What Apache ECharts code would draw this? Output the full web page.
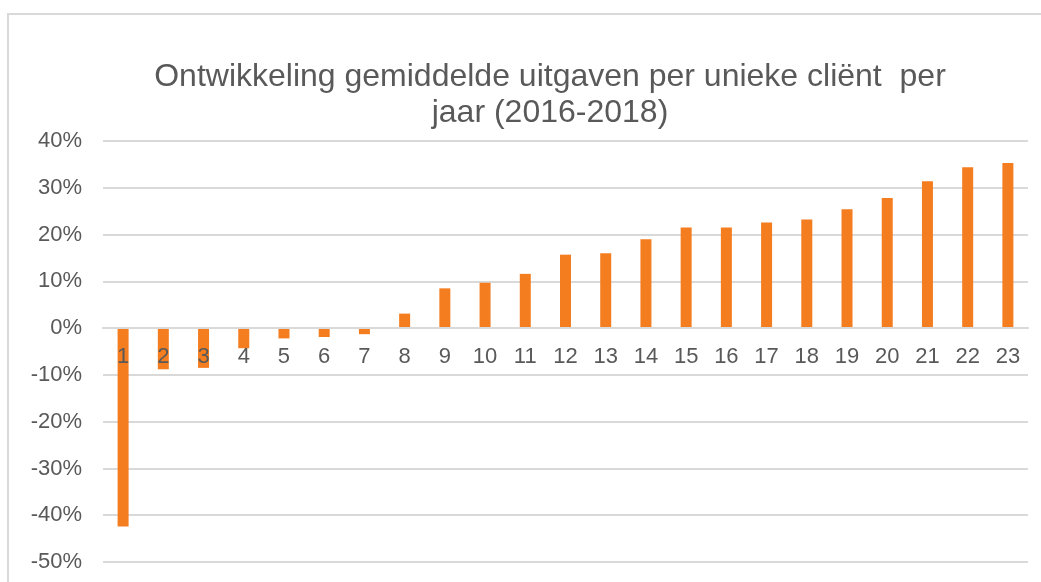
<!DOCTYPE html>
<html>
<head>
<meta charset="utf-8">
<script src="https://cdn.jsdelivr.net/npm/echarts@6/dist/echarts.min.js"></script>
<style>
html, body { margin: 0; padding: 0; background: #fff; }
#main { width: 1041px; height: 582px; }
</style>
</head>
<body>
<div id="main"></div>
<script>
var categories = ['1','2','3','4','5','6','7','8','9','10','11','12','13','14','15','16','17','18','19','20','21','22','23'];
// ontwikkeling in procenten
var values = [-42.4, -8.8, -8.5, -4.3, -2.2, -1.9, -1.3, 3.1, 8.5, 9.7, 11.6, 15.7, 16.0, 19.0, 21.5, 21.5, 22.6, 23.2, 25.4, 27.8, 31.4, 34.4, 35.3];
var yTicks = { min: -50, max: 40, step: 10 };

var myChart = echarts.init(document.getElementById('main'));
var font = '"Liberation Sans", Arial, sans-serif';

var gridTop = 141, gridBottom = 20, chartH = 582;
var plotH = chartH - gridTop - gridBottom;
// afstand van onderrand van grid tot de 0-lijn
var zeroShift = plotH * (0 - yTicks.min) / (yTicks.max - yTicks.min);

var option = {
    animation: false,
    backgroundColor: '#fff',
    graphic: [{
        type: 'rect',
        shape: { x: 8, y: 14, width: 1060, height: 600 },
        style: { fill: 'none', stroke: '#d9d9d9', lineWidth: 2 },
        z: -1
    }],
    title: {
        text: 'Ontwikkeling gemiddelde uitgaven per unieke cliënt  per\njaar (2016-2018)',
        left: 545,
        top: 54,
        textAlign: 'center',
        textStyle: {
            fontFamily: font,
            fontWeight: 'normal',
            fontSize: 32,
            color: '#595959',
            lineHeight: 36
        }
    },
    grid: { left: 103, right: 13, top: gridTop, bottom: gridBottom },
    xAxis: {
        type: 'category',
        data: categories,
        z: 5,
        offset: -zeroShift,
        axisLine: { onZero: false, lineStyle: { color: '#d9d9d9', width: 2 } },
        axisTick: { show: false },
        axisLabel: { color: '#595959', fontFamily: font, fontSize: 22, margin: 18 }
    },
    yAxis: {
        type: 'value',
        min: yTicks.min,
        max: yTicks.max,
        interval: yTicks.step,
        axisLine: { show: false },
        axisTick: { show: false },
        splitLine: { lineStyle: { color: '#d9d9d9', width: 2 } },
        axisLabel: {
            color: '#595959',
            fontFamily: font,
            fontSize: 22,
            margin: 21,
            formatter: function (v) { return v + '%'; }
        }
    },
    series: [{
        type: 'bar',
        data: values,
        barWidth: 11,
        itemStyle: { color: '#f47d20' }
    }]
};
myChart.setOption(option);
</script>
</body>
</html>
